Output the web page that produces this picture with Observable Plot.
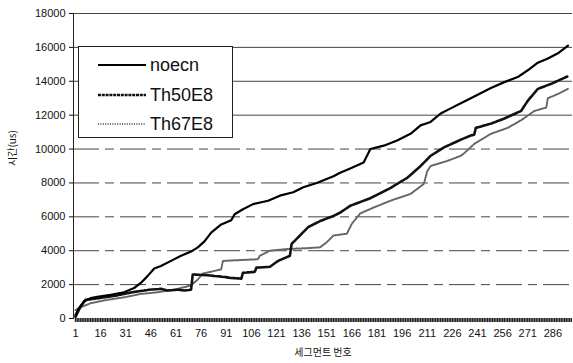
<!DOCTYPE html>
<html><head><meta charset="utf-8">
<script src="https://cdn.jsdelivr.net/npm/d3@7"></script>
<script src="https://cdn.jsdelivr.net/npm/@observablehq/plot@0.6"></script>
<style>
body{margin:0;background:#fff;}
#wrap{position:relative;width:573px;height:363px;}
#legend{position:absolute;left:78px;top:46px;width:153px;height:90px;border:1px solid #222;background:#fff;font-family:"Liberation Sans",Arial,sans-serif;font-size:18px;color:#111;}
.row{position:absolute;left:19px;height:20px;display:flex;align-items:center;}
.row svg{margin-right:4px;}
</style>
</head><body>
<div id="wrap"></div>
<script>
// ---- data ----
const seriesNames = ["noecn", "Th50E8", "Th67E8"];

const noecnSeg = [1,3,6,10,15,22,30,36,40,44,48,52,58,64,70,74,78,82,88,94,96,101,107,116,123,131,137,145,155,159,165,173,176,177,185,193,201,207,213,219,225,231,237,249,257,265,271,277,283,289,295];
const noecnVal = [200,600,1000,1200,1300,1400,1550,1800,2100,2500,2950,3100,3400,3700,3950,4200,4550,5070,5550,5800,6150,6450,6750,6950,7250,7450,7750,8000,8400,8600,8850,9200,9800,10000,10200,10500,10900,11400,11600,12100,12400,12700,13000,13600,13950,14250,14650,15100,15350,15650,16100];

const th50Seg = [1,4,7,15,25,35,45,52,56,62,66,70,71,80,90,93,100,101,108,109,117,122,129,130,135,140,147,155,159,165,177,189,199,207,213,221,231,237,239,240,249,257,267,271,277,285,295];
const th50Val = [100,700,1100,1200,1350,1550,1700,1750,1650,1700,1650,1700,2600,2550,2450,2400,2350,2700,2750,3000,3050,3400,3700,4400,4900,5400,5750,6050,6250,6650,7100,7700,8300,9000,9600,10100,10550,10800,10850,11250,11500,11800,12250,12850,13550,13850,14300];

const th67Seg = [1,5,10,20,30,40,50,60,70,74,77,88,89,110,111,117,127,139,147,151,155,163,166,171,179,189,201,209,211,213,223,231,233,239,249,259,267,275,282,283,289,295];
const th67Val = [500,700,900,1100,1250,1450,1550,1700,1950,2300,2650,2900,3400,3500,3700,4000,4100,4150,4200,4500,4900,5000,5600,6200,6550,6950,7350,7950,8700,9000,9300,9600,9750,10300,10900,11250,11700,12250,12450,13000,13250,13550];

const xTickLabels = [1,16,31,46,61,76,91,106,121,136,151,166,181,196,211,226,241,256,271,286];
const yTicks = [0,2000,4000,6000,8000,10000,12000,14000,16000,18000];
const categoryCount = 297;
const xTitle = "세그먼트 번호";
const yTitle = "시간(us)";

const toRows = (segs, vals, name) => segs.map((s, i) => ({seg: s, val: vals[i], series: name}));
const noecn = toRows(noecnSeg, noecnVal, seriesNames[0]);
const th50 = toRows(th50Seg, th50Val, seriesNames[1]);
const th67 = toRows(th67Seg, th67Val, seriesNames[2]);
const allCats = d3.range(1, categoryCount + 1);

const font = "Liberation Sans, Arial, sans-serif";
const chart = Plot.plot({
  width: 573, height: 363,
  marginLeft: 73, marginRight: 1, marginTop: 13, marginBottom: 45,
  style: {fontFamily: font, fontSize: "11px", color: "#111", background: "#fff"},
  x: {domain: [-0.19, 297.7]},
  y: {domain: [0, 18000]},
  marks: [
    Plot.gridY(yTicks.filter(d => d >= 12000), {stroke: "#444", strokeOpacity: 1, strokeWidth: 1}),
    Plot.gridY(yTicks.filter(d => d > 0 && d < 12000), {stroke: "#444", strokeOpacity: 1, strokeWidth: 1, strokeDasharray: "26,6,9,6"}),
    Plot.frame({anchor: "left", stroke: "#222"}),
    Plot.axisY({ticks: yTicks, tickSize: 4, tickPadding: 4, label: null, tickFormat: d => String(d), fontSize: 11}),
    Plot.axisX({ticks: allCats, tickSize: 4, tickFormat: () => "", label: null, stroke: "#222", strokeWidth: 1.4}),
    Plot.axisX({ticks: xTickLabels, tickSize: 0, tickPadding: 11, label: null, tickFormat: d => String(d), fontSize: 11}),
    Plot.line(th67, {x: "seg", y: "val", stroke: "#666", strokeWidth: 2, strokeDasharray: "1,1.4"}),
    Plot.line(th50, {x: "seg", y: "val", stroke: "#111", strokeWidth: 2.6, strokeDasharray: "3,0.8"}),
    Plot.line(noecn, {x: "seg", y: "val", stroke: "#000", strokeWidth: 2.2}),
    Plot.text([xTitle], {frameAnchor: "bottom", dy: 37, fontSize: 10, fontFamily: "Noto Sans CJK KR", fill: "#111"}),
    Plot.text([yTitle], {frameAnchor: "left", dx: -61, rotate: -90, fontSize: 10, fontFamily: "Noto Sans CJK KR", fill: "#111"})
  ]
});
const wrap = document.getElementById("wrap");
wrap.appendChild(chart);

// legend
const legend = document.createElement("div");
legend.id = "legend";
const styles = [
  {stroke: "#000", width: 2.2, dash: null},
  {stroke: "#111", width: 2.6, dash: "3,0.8"},
  {stroke: "#666", width: 2, dash: "1,1.4"}
];
const tops = [8, 38, 67];
seriesNames.forEach((name, i) => {
  const row = document.createElement("div");
  row.className = "row";
  row.style.top = tops[i] + "px";
  const s = styles[i];
  row.innerHTML = `<svg width="48" height="10"><line x1="0" x2="48" y1="5" y2="5" stroke="${s.stroke}" stroke-width="${s.width}" ${s.dash ? `stroke-dasharray="${s.dash}"` : ""}/></svg><span>${name}</span>`;
  legend.appendChild(row);
});
wrap.appendChild(legend);
</script>
</body></html>
